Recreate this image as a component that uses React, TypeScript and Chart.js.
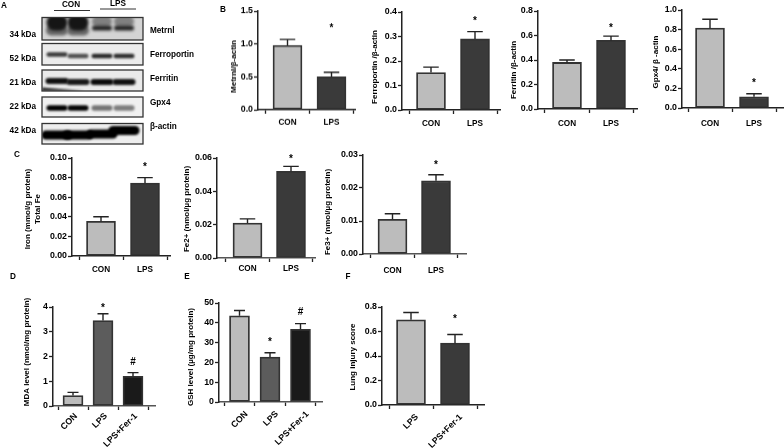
import React, { useEffect, useRef } from "react";
import { Chart, registerables } from "chart.js";

Chart.register(...registerables);

const FONT = "'Liberation Sans', Arial, sans-serif";

// ---- data ----
const conLps = ["CON", "LPS"];
const threeGroups = ["CON", "LPS", "LPS+Fer-1"];
const lungGroups = ["LPS", "LPS+Fer-1"];

const metrnlValues = [0.98, 0.5];
const metrnlTops = [1.07, 0.57];
const ferroportinValues = [0.153, 0.29];
const ferroportinTops = [0.175, 0.32];
const ferritinValues = [0.38, 0.56];
const ferritinTops = [0.4, 0.595];
const gpx4Values = [0.815, 0.115];
const gpx4Tops = [0.905, 0.145];
const totalFeValues = [0.0355, 0.0745];
const totalFeTops = [0.04, 0.08];
const fe2Values = [0.021, 0.052];
const fe2Tops = [0.0235, 0.055];
const fe3Values = [0.0105, 0.0222];
const fe3Tops = [0.0122, 0.024];
const mdaValues = [0.42, 3.45, 1.2];
const mdaTops = [0.55, 3.73, 1.35];
const gshValues = [43.5, 22.7, 36.7];
const gshTops = [46.2, 24.9, 39.6];
const lungValues = [0.695, 0.505];
const lungTops = [0.755, 0.575];

const blotRowNames = ["Metrnl", "Ferroportin", "Ferritin", "Gpx4", "β-actin"];
const blotKda = ["34 kDa", "52 kDa", "21 kDa", "22 kDa", "42 kDa"];
const blotDarkness = [
  [0.95, 0.92, 0.72, 0.68],
  [0.72, 0.62, 0.8, 0.78],
  [0.92, 0.88, 0.95, 0.92],
  [1, 0.98, 0.45, 0.4],
  [1, 1, 1, 1],
];
const panelLetters = ["A", "B", "C", "D", "E", "F"];

const LIGHT = "#bcbcbc";
const DARK = "#3a3a3a";
const MID = "#5c5c5c";
const BLACKISH = "#1a1a1a";

type Panel = {
  title: string[]; titleX: number; titleY: number;
  cats: string[]; values: number[]; tops: number[]; fills: string[];
  yMax: number; step: number; decimals: number;
  x0: number; xEnd: number; yTop: number; y0: number; centers: number[]; barW: number;
  marks: { i: number; text: string; v: number }[];
  rotate?: boolean; xColor?: string; labelPad?: number; labelShift?: number;
};

const panels: Panel[] = [
  { title: ["Metrnl/β-actin"], titleX: 234, titleY: 66, cats: conLps, values: metrnlValues, tops: metrnlTops, fills: [LIGHT, DARK],
    yMax: 1.5, step: 0.5, decimals: 1, x0: 258, xEnd: 355, yTop: 11, y0: 109.5, centers: [287.5, 331.5], barW: 29, labelPad: 4,
    marks: [{ i: 1, text: "*", v: 1.26 }] },
  { title: ["Ferroportin /β-actin"], titleX: 375, titleY: 67, cats: conLps, values: ferroportinValues, tops: ferroportinTops, fills: [LIGHT, DARK],
    yMax: 0.4, step: 0.1, decimals: 1, x0: 402, xEnd: 500, yTop: 12, y0: 110, centers: [431, 475], barW: 29, labelPad: 5,
    marks: [{ i: 1, text: "*", v: 0.37 }] },
  { title: ["Ferritin /β-actin"], titleX: 514, titleY: 70, cats: conLps, values: ferritinValues, tops: ferritinTops, fills: [LIGHT, DARK],
    yMax: 0.8, step: 0.2, decimals: 1, x0: 538, xEnd: 637, yTop: 11, y0: 109, centers: [567, 611], barW: 29, labelPad: 6,
    marks: [{ i: 1, text: "*", v: 0.67 }] },
  { title: ["Gpx4/ β -actin"], titleX: 656, titleY: 62, cats: conLps, values: gpx4Values, tops: gpx4Tops, fills: [LIGHT, DARK],
    yMax: 1, step: 0.2, decimals: 1, x0: 682, xEnd: 784, yTop: 10, y0: 108, centers: [710, 754], barW: 29, labelPad: 7,
    marks: [{ i: 1, text: "*", v: 0.265 }] },
  { title: ["Iron (mmol/g protein)", "Total Fe"], titleX: 33, titleY: 209, cats: conLps, values: totalFeValues, tops: totalFeTops, fills: [LIGHT, DARK],
    yMax: 0.1, step: 0.02, decimals: 2, x0: 72, xEnd: 170, yTop: 158, y0: 256, centers: [101, 145], barW: 29, labelPad: 5,
    marks: [{ i: 1, text: "*", v: 0.092 }] },
  { title: ["Fe2+ (nmol/µg protein)"], titleX: 187, titleY: 209, cats: conLps, values: fe2Values, tops: fe2Tops, fills: [LIGHT, DARK],
    yMax: 0.06, step: 0.02, decimals: 2, x0: 217, xEnd: 315, yTop: 158, y0: 258, centers: [247.5, 291], barW: 29, xColor: "#555", labelPad: 2,
    marks: [{ i: 1, text: "*", v: 0.06 }] },
  { title: ["Fe3+ (nmol/µg protein)"], titleX: 328, titleY: 212, cats: conLps, values: fe3Values, tops: fe3Tops, fills: [LIGHT, DARK],
    yMax: 0.03, step: 0.01, decimals: 2, x0: 363, xEnd: 466, yTop: 155, y0: 254, centers: [392.5, 436], barW: 29, xColor: "#555", labelPad: 8,
    marks: [{ i: 1, text: "*", v: 0.0273 }] },
  { title: ["MDA level (nmol/mg protein)"], titleX: 27, titleY: 352, cats: threeGroups, values: mdaValues, tops: mdaTops, fills: [LIGHT, MID, BLACKISH],
    yMax: 4, step: 1, decimals: 0, x0: 53, xEnd: 155, yTop: 307, y0: 406, centers: [73, 103, 134], barW: 20, rotate: true, xColor: "#555", labelPad: 1, labelShift: 3,
    marks: [{ i: 1, text: "*", v: 4.0 }, { i: 2, text: "#", v: 1.78 }] },
  { title: ["GSH level (µg/mg protein)"], titleX: 191, titleY: 357, cats: threeGroups, values: gshValues, tops: gshTops, fills: [LIGHT, MID, BLACKISH],
    yMax: 50, step: 10, decimals: 0, x0: 219, xEnd: 322, yTop: 303, y0: 402, centers: [239.5, 270, 301], barW: 20, rotate: true, xColor: "#555", labelPad: 3, labelShift: 7,
    marks: [{ i: 1, text: "*", v: 30.8 }, { i: 2, text: "#", v: 45.5 }] },
  { title: ["Lung injury score"], titleX: 353, titleY: 357, cats: lungGroups, values: lungValues, tops: lungTops, fills: [LIGHT, DARK],
    yMax: 0.8, step: 0.2, decimals: 1, x0: 382, xEnd: 484, yTop: 307, y0: 405, centers: [411, 455], barW: 29, rotate: true, labelPad: 3, labelShift: 6,
    marks: [{ i: 1, text: "*", v: 0.71 }] },
];

const panelPlugin = (p: Panel, canvasLeft: number, canvasTop: number) => ({
  id: "panelExtras",
  afterDatasetsDraw(chart: any) {
    const { ctx, scales } = chart;
    const sy = scales.y, sx = scales.x;
    ctx.save();
    ctx.strokeStyle = "#222";
    ctx.lineWidth = 1.4;
    p.tops.forEach((t, i) => {
      const x = sx.getPixelForValue(i + 1);
      const yT = sy.getPixelForValue(t), yB = sy.getPixelForValue(p.values[i]);
      const half = p.barW * 0.25 + 0.5;
      ctx.beginPath();
      ctx.moveTo(x, yB); ctx.lineTo(x, yT);
      ctx.moveTo(x - half, yT); ctx.lineTo(x + half, yT);
      ctx.stroke();
    });
    ctx.fillStyle = "#000";
    ctx.textAlign = "center";
    ctx.textBaseline = "middle";
    p.marks.forEach((m) => {
      ctx.font = `bold ${m.text === "#" ? 10 : 10}px ${FONT}`;
      ctx.fillText(m.text, sx.getPixelForValue(m.i + 1), sy.getPixelForValue(m.v) + (m.text === "*" ? 1.5 : 0));
    });
    ctx.font = `bold 8px ${FONT}`;
    p.title.forEach((line, i) => {
      ctx.save();
      const offset = (i - (p.title.length - 1) / 2) * 10;
      ctx.translate(p.titleX - canvasLeft + offset, p.titleY - canvasTop);
      ctx.rotate(-Math.PI / 2);
      ctx.fillText(line, 0, 0);
      ctx.restore();
    });
    ctx.restore();
  },
});

function PanelChart({ p }: { p: Panel }) {
  const ref = useRef<HTMLCanvasElement>(null);
  const left = p.titleX - 14;
  const top = p.yTop - 12;
  const width = Math.min(p.xEnd + 3, 784) - left;
  const height = p.y0 + 44 - top;
  useEffect(() => {
    const spacing = p.centers[1] - p.centers[0];
    const xMin = 1 - (p.centers[0] - p.x0) / spacing;
    const xMax = xMin + (p.xEnd - p.x0) / spacing;
    const chart = new Chart(ref.current as HTMLCanvasElement, {
      type: "bar",
      data: {
        datasets: [
          {
            data: p.values.map((v, i) => ({ x: i + 1, y: v })),
            backgroundColor: p.fills,
            borderColor: "#333",
            borderWidth: 1.8,
            borderSkipped: false,
            barThickness: p.barW,
          } as any,
        ],
      },
      options: {
        animation: false,
        responsive: false,
        layout: { padding: { top: p.yTop - top, right: width - (p.xEnd - left), left: 0, bottom: 0 } },
        plugins: { legend: { display: false }, tooltip: { enabled: false } },
        scales: {
          x: {
            type: "linear",
            min: xMin,
            max: xMax,
            offset: false,
            grid: { drawOnChartArea: false, drawTicks: true, tickLength: 4, tickColor: "#222", tickWidth: 1.3 },
            border: { color: p.xColor ?? "#222", width: 1.5 },
            afterBuildTicks: (s: any) => { s.ticks = p.cats.map((_, i) => ({ value: i + 1 })); },
            afterFit: (s: any) => { s.height = height - (p.y0 - top); },
            ticks: {
              autoSkip: false,
              color: "#000",
              padding: p.labelPad ?? 5,
              labelOffset: p.labelShift ?? 0,
              minRotation: p.rotate ? 45 : 0,
              maxRotation: p.rotate ? 45 : 0,
              font: { family: FONT, weight: "bold", size: p.rotate ? 8.8 : 8.2 },
              callback: (v: any) => p.cats[Number(v) - 1] ?? "",
            },
          } as any,
          y: {
            min: 0,
            max: p.yMax,
            grid: { drawOnChartArea: false, drawTicks: true, tickLength: 4, tickColor: "#222", tickWidth: 1.3 },
            border: { color: "#222", width: 1.5 },
            afterFit: (s: any) => { s.width = p.x0 - left; },
            ticks: {
              stepSize: p.step,
              color: "#000",
              padding: 1,
              font: { family: FONT, weight: "bold", size: 8.8 },
              callback: (v: any) => Number(v).toFixed(p.decimals),
            },
          } as any,
        },
      },
      plugins: [panelPlugin(p, left, top)],
    });
    return () => chart.destroy();
  }, []);
  return (
    <canvas
      ref={ref}
      width={width}
      height={height}
      style={{ position: "absolute", left, top, width, height }}
    />
  );
}

// ---- panel A (blots) and the panel letters ----
const blotBoxes = [
  { y: 17.5, h: 22.5, bandY: 0, thick: 0, labelY: 31, kdaY: 35, bg: "#d4d4d4" },
  { y: 43.5, h: 21.5, bandY: 56, thick: 3.4, labelY: 55, kdaY: 59, bg: "#ececec" },
  { y: 70, h: 21, bandY: 82, thick: 5, labelY: 79, kdaY: 83, bg: "#eaeaea" },
  { y: 97, h: 20, bandY: 108, thick: 4.6, labelY: 103, kdaY: 107, bg: "#f0f0f0" },
  { y: 123.5, h: 20.5, bandY: 135, thick: 8, labelY: 127, kdaY: 131, bg: "#eeeeee" },
];
const laneX = [57, 78, 102, 124];
const letterSpots = [[4, 6], [223, 10], [17, 155], [13, 277], [187, 277], [348, 277]];

const blotPlugin = {
  id: "blots",
  afterDraw(chart: any) {
    const ctx = chart.ctx as CanvasRenderingContext2D;
    const bar = (cx: number, cy: number, hw: number, hh: number, fill: string) => {
      ctx.fillStyle = fill;
      ctx.beginPath();
      (ctx as any).roundRect(cx - hw, cy - hh, hw * 2, hh * 2, Math.min(hw, hh));
      ctx.fill();
    };
    ctx.save();
    ctx.fillStyle = "#000";
    ctx.textBaseline = "middle";
    ctx.font = `bold 8.2px ${FONT}`;
    blotBoxes.forEach((b, r) => {
      ctx.save();
      ctx.beginPath();
      ctx.rect(42, b.y, 101, b.h);
      ctx.fillStyle = b.bg;
      ctx.fill();
      ctx.clip();
      ctx.filter = r === 0 ? "blur(1.8px)" : "blur(1.2px)";
      blotDarkness[r].forEach((d, l) => {
        const shade = Math.round(210 * (1 - d));
        const fill = `rgb(${shade},${shade},${shade})`;
        const x = laneX[l];
        if (r === 0) {
          if (l < 2) {
            bar(x, b.y + 13, 11, 5, "#666");
            bar(x, b.y + 5, 10.5, 8, "#151515");
          } else {
            bar(x, b.y + 4, 10, 5, "#808080");
            bar(x, b.y + 10.5, 10, 2.6, "#222");
          }
        } else {
          const rise = r === 4 ? [0, 0, 1, 4.5][l] : r === 2 ? [1, 0, 0, 0][l] : r === 1 ? [1.5, 0, 0, 0][l] : 0;
          const halfW = r === 4 ? 15.5 : r === 2 ? 11.5 : l < 2 && r === 3 ? 10.5 : 10.5;
          bar(x, b.bandY - rise, halfW, b.thick / 2 + 0.5, fill);
        }
      });
      if (r === 2) {
        ctx.fillStyle = "#222";
        ctx.beginPath();
        ctx.moveTo(42, b.y + 17.5); ctx.lineTo(84, b.y + 21); ctx.lineTo(42, b.y + 21);
        ctx.fill();
      }
      ctx.restore();
      ctx.strokeStyle = "#333";
      ctx.lineWidth = 1.3;
      ctx.strokeRect(42, b.y, 101, b.h);
      ctx.textAlign = "right";
      ctx.fillText(blotKda[r], 36, b.kdaY);
      ctx.textAlign = "left";
      ctx.fillText(blotRowNames[r], 150, b.labelY);
    });
    ctx.textAlign = "center";
    ctx.fillText(conLps[0], 71, 4.5);
    ctx.fillText(conLps[1], 118, 3.5);
    ctx.strokeStyle = "#333";
    ctx.lineWidth = 1;
    ctx.beginPath();
    ctx.moveTo(54, 10.5); ctx.lineTo(90, 10.5);
    ctx.moveTo(100, 9); ctx.lineTo(136, 9);
    ctx.stroke();
    panelLetters.forEach((t, i) => ctx.fillText(t, letterSpots[i][0], letterSpots[i][1]));
    ctx.restore();
  },
};

function BlotLayer() {
  const ref = useRef<HTMLCanvasElement>(null);
  useEffect(() => {
    const chart = new Chart(ref.current as HTMLCanvasElement, {
      type: "bar",
      data: { labels: [], datasets: [] },
      options: {
        animation: false,
        responsive: false,
        plugins: { legend: { display: false }, tooltip: { enabled: false } },
        scales: { x: { display: false }, y: { display: false } },
      },
      plugins: [blotPlugin],
    });
    return () => chart.destroy();
  }, []);
  return <canvas ref={ref} width={784} height={448} style={{ position: "absolute", left: 0, top: 0, width: 784, height: 448 }} />;
}

export default function App() {
  return (
    <div style={{ position: "absolute", left: 0, top: 0, width: 784, height: 448, overflow: "hidden", background: "#fff", filter: "blur(0.2px)" }}>
      <BlotLayer />
      {panels.map((p, i) => (
        <PanelChart key={i} p={p} />
      ))}
    </div>
  );
}
